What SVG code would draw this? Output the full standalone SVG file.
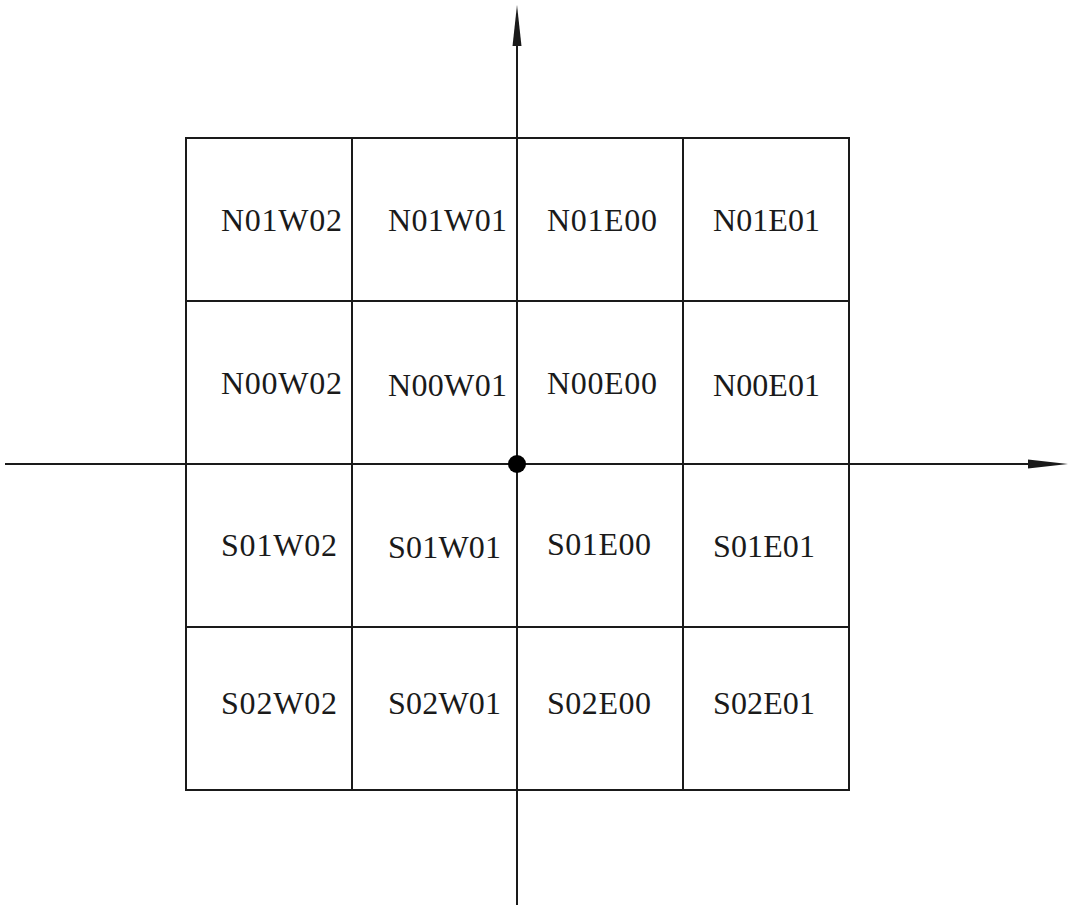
<svg xmlns="http://www.w3.org/2000/svg" width="1080" height="911" viewBox="0 0 1080 911">
<style>
.g{fill:none;stroke:#1a1a1a;stroke-width:2}
.ax{fill:none;stroke:#1a1a1a;stroke-width:2}
.t{font-family:"Liberation Serif",serif;font-size:32px;fill:#1a1a1a}
</style>
<rect width="1080" height="911" fill="#fff"/>
<g id="grid">
<rect class="g" x="186" y="138" width="663" height="652"/>
<line class="g" x1="352" y1="138" x2="352" y2="790"/>
<line class="g" x1="683" y1="138" x2="683" y2="790"/>
<line class="g" x1="186" y1="301" x2="849" y2="301"/>
<line class="g" x1="186" y1="627" x2="849" y2="627"/>
</g>
<g id="connectors">
<line class="ax" x1="517" y1="40" x2="517" y2="905"/>
<line class="ax" x1="5" y1="464" x2="1032" y2="464"/>
<polygon points="517,5 521.5,46 512.5,46" fill="#1a1a1a"/>
<polygon points="1068,464 1028,459.5 1028,468.5" fill="#1a1a1a"/>
</g>
<g id="origin"><circle cx="517" cy="464" r="9" fill="#000"/></g>
<g id="n-N01W02"><text class="t" x="221" y="231" textLength="121" lengthAdjust="spacing">N01W02</text></g>
<g id="n-N01W01"><text class="t" x="388" y="231" textLength="119" lengthAdjust="spacing">N01W01</text></g>
<g id="n-N01E00"><text class="t" x="547" y="231" textLength="110" lengthAdjust="spacing">N01E00</text></g>
<g id="n-N01E01"><text class="t" x="713" y="231" textLength="107" lengthAdjust="spacing">N01E01</text></g>
<g id="n-N00W02"><text class="t" x="221" y="394" textLength="121" lengthAdjust="spacing">N00W02</text></g>
<g id="n-N00W01"><text class="t" x="388" y="396" textLength="119" lengthAdjust="spacing">N00W01</text></g>
<g id="n-N00E00"><text class="t" x="547" y="394" textLength="110" lengthAdjust="spacing">N00E00</text></g>
<g id="n-N00E01"><text class="t" x="713" y="396" textLength="107" lengthAdjust="spacing">N00E01</text></g>
<g id="n-S01W02"><text class="t" x="221" y="556" textLength="116" lengthAdjust="spacing">S01W02</text></g>
<g id="n-S01W01"><text class="t" x="388" y="558" textLength="113" lengthAdjust="spacing">S01W01</text></g>
<g id="n-S01E00"><text class="t" x="547" y="555" textLength="104" lengthAdjust="spacing">S01E00</text></g>
<g id="n-S01E01"><text class="t" x="713" y="557" textLength="102" lengthAdjust="spacing">S01E01</text></g>
<g id="n-S02W02"><text class="t" x="221" y="714" textLength="116" lengthAdjust="spacing">S02W02</text></g>
<g id="n-S02W01"><text class="t" x="388" y="714" textLength="113" lengthAdjust="spacing">S02W01</text></g>
<g id="n-S02E00"><text class="t" x="547" y="714" textLength="104" lengthAdjust="spacing">S02E00</text></g>
<g id="n-S02E01"><text class="t" x="713" y="714" textLength="102" lengthAdjust="spacing">S02E01</text></g>
</svg>
